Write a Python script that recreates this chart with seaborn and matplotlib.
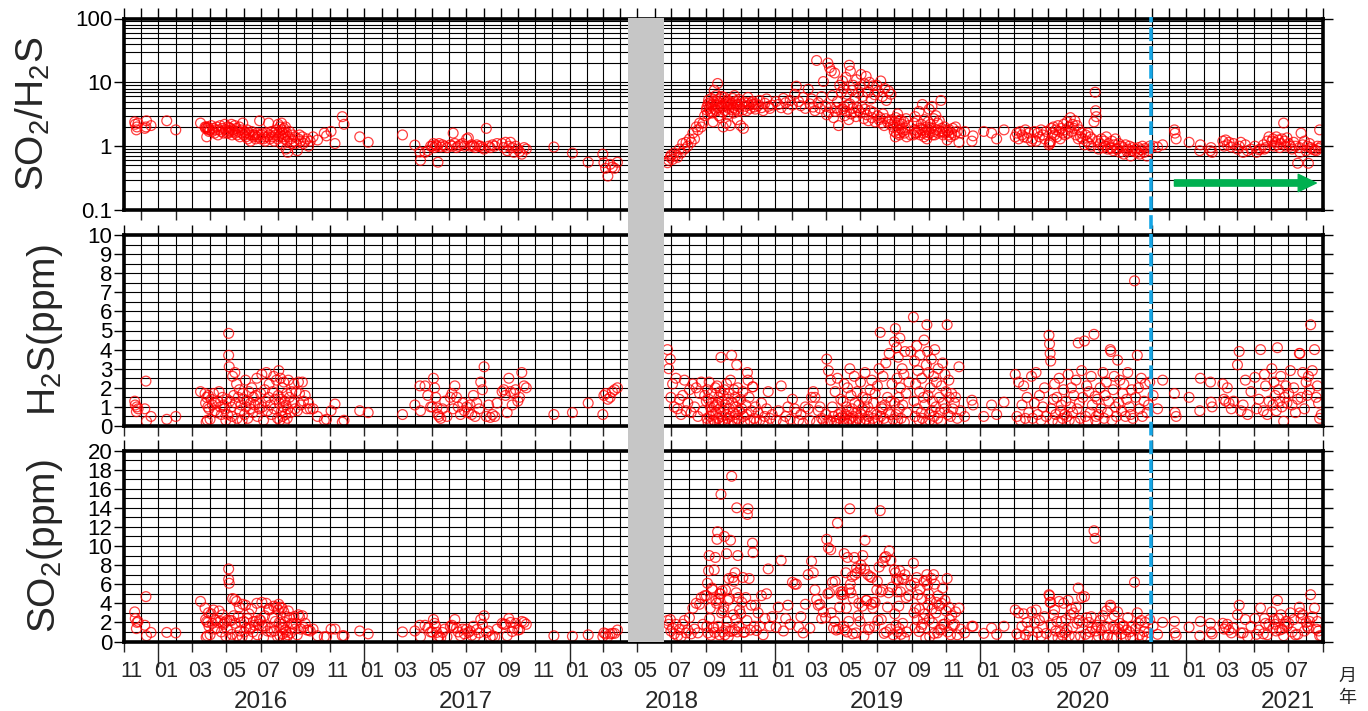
import matplotlib
matplotlib.use("Agg")
import numpy as np
import pandas as pd
import matplotlib.pyplot as plt
import matplotlib.dates as mdates
import matplotlib.ticker as mticker
import matplotlib.transforms as mtransforms
from matplotlib.patches import Rectangle, FancyArrowPatch
from matplotlib.lines import Line2D
import seaborn as sns

# ---------------- data: (date yymmdd, SO2/H2S ratio, H2S ppm, SO2 ppm) ----------------
obs_2015_16 = [
    ("151120", 2.4, 1.3, 3.1), ("151121", 2.2, 1.1, 2.4), ("151123", 1.8, 0.75, 1.35), ("151124", 2.0, 1.0, 2.0),
    ("151126", 2.3, 0.9, 2.1), ("151208", 1.9, 0.9, 1.7), ("151210", 2.0, 2.35, 4.7), ("151211", 2.5, 0.25, 0.6),
    ("151219", 2.1, 0.5, 0.95), ("160116", 2.5, 0.35, 0.95), ("160201", 1.8, 0.5, 0.9), ("160316", 2.3, 1.8, 4.2),
    ("160324", 2.0, 1.7, 3.5), ("160325", 1.9, 1.2, 2.3), ("160326", 2.0, 0.2, 0.45), ("160327", 1.4, 1.5, 2.1),
    ("160328", 1.9, 0.3, 0.6), ("160329", 2.0, 1.0, 2.0), ("160330", 1.8, 1.6, 3.0), ("160331", 1.7, 0.9, 1.6),
    ("160402", 1.8, 0.35, 0.7), ("160404", 2.1, 1.4, 2.9), ("160406", 1.7, 1.1, 1.9), ("160408", 1.9, 1.7, 3.3),
    ("160410", 1.6, 0.8, 1.3), ("160412", 1.8, 1.2, 2.2), ("160414", 2.0, 0.7, 1.4), ("160416", 1.5, 1.3, 2.0),
    ("160418", 1.8, 1.8, 3.2), ("160420", 2.1, 1.0, 2.1), ("160422", 1.7, 0.6, 1.0), ("160424", 1.9, 1.5, 2.8),
    ("160426", 1.6, 1.1, 1.8), ("160428", 2.2, 0.9, 2.0), ("160430", 1.8, 0.3, 0.55), ("160502", 1.6, 1.4, 2.2),
    ("160503", 2.0, 0.6, 1.2), ("160505", 1.6, 4.85, 7.6), ("160505", 1.75, 3.7, 6.5), ("160506", 1.95, 3.1, 6.1),
    ("160507", 1.7, 1.3, 2.2), ("160508", 1.9, 0.2, 0.4), ("160510", 2.2, 1.0, 2.2), ("160511", 1.5, 0.5, 0.75),
    ("160512", 1.8, 2.6, 4.5), ("160514", 1.7, 1.6, 2.7), ("160516", 2.1, 2.8, 4.4), ("160517", 1.6, 1.2, 1.9),
    ("160519", 1.9, 2.2, 4.2), ("160520", 1.5, 0.4, 0.6), ("160522", 1.7, 1.5, 2.6), ("160524", 2.0, 1.9, 3.6),
    ("160525", 1.4, 0.8, 1.1), ("160527", 1.8, 1.1, 2.0), ("160529", 1.6, 0.3, 0.5), ("160530", 2.3, 1.7, 3.9),
    ("160601", 1.5, 1.4, 2.1), ("160602", 1.7, 0.6, 1.0), ("160604", 1.6, 2.4, 3.8), ("160605", 1.4, 1.0, 1.4),
    ("160607", 1.8, 1.3, 2.4), ("160608", 1.3, 0.4, 0.5), ("160610", 1.6, 1.8, 2.9), ("160612", 1.5, 0.9, 1.3),
    ("160613", 1.2, 1.2, 1.5), ("160615", 1.7, 2.0, 3.4), ("160617", 1.5, 0.7, 1.0), ("160618", 1.4, 1.5, 2.1),
    ("160620", 1.5, 1.1, 1.7), ("160622", 1.3, 1.6, 2.1), ("160624", 1.6, 2.5, 4.0), ("160625", 1.4, 0.5, 0.7),
    ("160627", 1.5, 1.2, 1.8), ("160629", 2.5, 0.9, 2.3), ("160701", 1.3, 1.7, 2.2), ("160703", 1.5, 2.7, 4.1),
    ("160704", 1.6, 1.0, 1.6), ("160706", 1.3, 0.3, 0.4), ("160708", 1.4, 1.9, 2.7), ("160709", 1.2, 1.3, 1.6),
    ("160711", 1.6, 2.8, 4.0), ("160713", 1.4, 0.8, 1.1), ("160715", 2.3, 1.5, 3.4), ("160716", 1.5, 2.2, 3.3),
    ("160718", 1.3, 1.1, 1.4), ("160720", 1.7, 0.6, 1.0), ("160722", 1.4, 1.8, 2.5), ("160724", 1.6, 2.6, 3.7),
    ("160725", 1.2, 0.9, 1.1), ("160727", 1.5, 1.4, 2.1), ("160729", 1.8, 2.4, 3.6), ("160731", 1.3, 0.4, 0.5),
    ("160801", 2.2, 1.6, 3.3), ("160802", 1.4, 2.9, 3.9), ("160803", 1.7, 1.2, 2.0), ("160804", 2.0, 0.3, 0.6),
    ("160805", 1.5, 2.5, 3.6), ("160806", 1.1, 1.4, 1.5), ("160807", 2.3, 0.8, 1.8), ("160808", 1.8, 2.0, 3.5),
    ("160809", 1.6, 0.5, 0.8), ("160810", 1.4, 1.0, 1.4), ("160811", 1.9, 2.3, 3.1), ("160812", 1.3, 0.2, 0.3),
    ("160813", 1.5, 1.3, 2.0), ("160814", 2.0, 0.6, 1.2), ("160815", 0.9, 1.1, 1.0), ("160816", 1.6, 1.7, 2.6),
    ("160817", 1.2, 0.4, 0.5), ("160818", 0.8, 0.9, 0.7), ("160819", 1.4, 2.4, 3.2), ("160821", 1.7, 1.5, 2.5),
    ("160823", 1.3, 0.7, 0.9), ("160825", 1.1, 1.8, 1.9), ("160827", 1.5, 1.2, 1.8), ("160829", 1.2, 2.2, 2.6),
    ("160831", 1.4, 0.9, 1.3), ("160902", 1.1, 1.8, 1.9), ("160904", 0.85, 0.8, 0.7), ("160906", 1.3, 2.3, 2.8),
    ("160908", 1.5, 1.7, 2.6), ("160910", 1.2, 1.1, 1.3), ("160913", 1.4, 2.3, 2.7), ("160915", 1.1, 1.3, 1.5),
    ("160918", 1.2, 1.6, 1.9), ("160921", 1.3, 0.9, 1.2), ("160924", 1.0, 1.2, 1.2), ("160927", 1.2, 0.9, 1.1),
    ("161002", 1.4, 0.9, 1.3), ("161010", 1.25, 0.5, 0.6), ("161022", 1.6, 0.3, 0.5), ("161026", 1.45, 0.35, 0.5),
    ("161103", 1.7, 0.8, 1.3), ("161110", 1.1, 1.15, 1.3), ("161123", 2.9, 0.2, 0.6), ("161126", 2.2, 0.3, 0.6),
    ("161224", 1.4, 0.8, 1.1),
]
obs_2017_18 = [
    ("170108", 1.15, 0.7, 0.8), ("170310", 1.5, 0.6, 1.0), ("170401", 1.04, 1.1, 1.1), ("170410", 0.81, 2.1, 1.7),
    ("170411", 0.6, 0.8, 0.5), ("170419", 0.8, 2.1, 1.7), ("170424", 0.85, 1.6, 1.4), ("170429", 1.0, 1.0, 1.0),
    ("170502", 1.0, 1.0, 1.0), ("170504", 1.1, 2.5, 2.3), ("170506", 0.95, 2.0, 1.9), ("170508", 1.05, 1.5, 1.6),
    ("170510", 1.0, 0.95, 0.95), ("170512", 0.56, 0.6, 0.4), ("170514", 1.1, 0.5, 0.55), ("170517", 0.97, 0.4, 0.4),
    ("170520", 1.05, 0.9, 0.95), ("170524", 1.0, 1.3, 1.3), ("170528", 0.95, 0.5, 0.5), ("170603", 1.05, 1.5, 1.6),
    ("170606", 1.0, 1.7, 1.7), ("170608", 1.6, 0.9, 1.45), ("170611", 1.1, 2.1, 2.3), ("170614", 0.95, 1.5, 1.4),
    ("170617", 1.0, 1.0, 1.0), ("170621", 1.05, 0.6, 0.6), ("170625", 1.1, 1.2, 1.3), ("170628", 1.0, 0.8, 0.8),
    ("170702", 1.3, 1.0, 1.3), ("170705", 1.35, 0.7, 0.95), ("170708", 1.0, 1.1, 1.1), ("170711", 1.05, 0.6, 0.65),
    ("170714", 1.0, 1.6, 1.6), ("170717", 0.95, 0.5, 0.5), ("170720", 1.05, 1.2, 1.25), ("170724", 1.0, 0.9, 0.9),
    ("170727", 1.0, 2.3, 2.3), ("170730", 0.95, 1.9, 1.8), ("170802", 0.9, 3.1, 2.7), ("170806", 1.9, 0.5, 0.95),
    ("170810", 1.0, 1.1, 1.1), ("170813", 0.95, 0.45, 0.45), ("170817", 1.05, 0.6, 0.6), ("170821", 1.0, 0.5, 0.5),
    ("170825", 1.1, 1.2, 1.3), ("170903", 1.1, 1.8, 1.9), ("170906", 0.95, 1.9, 1.8), ("170909", 1.15, 1.6, 1.8),
    ("170912", 0.85, 0.7, 0.6), ("170915", 1.0, 2.5, 2.4), ("170918", 1.15, 1.8, 2.0), ("170921", 0.95, 1.1, 1.05),
    ("170924", 0.8, 1.7, 1.4), ("170927", 1.0, 1.9, 1.9), ("171001", 0.9, 1.3, 1.2), ("171004", 0.82, 1.5, 1.25),
    ("171008", 0.75, 2.8, 2.1), ("171012", 0.95, 2.1, 2.0), ("171016", 0.9, 2.0, 1.8), ("171204", 0.97, 0.6, 0.6),
    ("180106", 0.78, 0.7, 0.55), ("180203", 0.56, 1.2, 0.7), ("180301", 0.75, 0.6, 0.5), ("180303", 0.55, 1.6, 0.9),
    ("180306", 0.45, 1.7, 0.8), ("180310", 0.34, 1.4, 0.5), ("180314", 0.52, 1.5, 0.8), ("180318", 0.47, 1.8, 0.85),
    ("180322", 0.45, 1.9, 0.85), ("180327", 0.56, 2.0, 1.2),
    ("180624", 0.55, 4.0, 2.2), ("180626", 0.6, 3.0, 1.8), ("180629", 0.67, 3.5, 2.3), ("180630", 0.72, 1.5, 1.1),
    ("180703", 0.62, 2.2, 1.4), ("180706", 0.78, 1.0, 0.8), ("180709", 0.72, 2.5, 1.8), ("180712", 0.67, 0.9, 0.6),
    ("180715", 0.9, 1.4, 1.25), ("180718", 0.78, 0.6, 0.5), ("180721", 1.1, 1.6, 1.8), ("180724", 0.9, 2.4, 2.2),
    ("180727", 1.15, 0.8, 0.9), ("180730", 1.0, 1.2, 1.2), ("180802", 1.3, 1.9, 2.5), ("180805", 1.15, 0.7, 0.8),
    ("180808", 1.6, 2.2, 3.5), ("180811", 1.3, 1.0, 1.3), ("180814", 2.0, 2.0, 4.0), ("180817", 1.8, 0.5, 0.9),
    ("180820", 2.3, 1.7, 3.9), ("180823", 2.0, 2.3, 4.6), ("180826", 2.3, 0.8, 1.8), ("180829", 3.0, 1.6, 4.8),
    ("180901", 3.7, 1.3, 4.8), ("180902", 4.1, 0.4, 1.6), ("180903", 3.2, 1.9, 6.1), ("180904", 4.6, 0.2, 0.9),
    ("180905", 5.3, 1.4, 7.4), ("180906", 3.9, 2.3, 9.0), ("180907", 4.8, 0.5, 2.4), ("180908", 3.5, 1.0, 3.5),
    ("180909", 4.3, 0.15, 0.65), ("180910", 5.6, 0.8, 4.5), ("180911", 3.3, 1.7, 5.6), ("180912", 4.5, 1.2, 5.4),
    ("180913", 2.4, 0.6, 1.4), ("180914", 5.0, 0.3, 1.5), ("180915", 7.5, 1.0, 7.5), ("180916", 3.8, 0.25, 0.95),
    ("180917", 4.4, 2.0, 8.8), ("180918", 6.2, 0.7, 4.3), ("180919", 3.6, 1.1, 4.0), ("180920", 5.1, 2.1, 10.7),
    ("180921", 9.6, 1.2, 11.5), ("180922", 4.0, 0.4, 1.6), ("180923", 3.0, 1.5, 4.5), ("180924", 4.8, 0.15, 0.7),
    ("180925", 5.5, 0.9, 5.0), ("180926", 2.8, 1.8, 5.0), ("180927", 4.3, 3.6, 15.4), ("180928", 6.0, 0.5, 3.0),
    ("180929", 4.1, 1.3, 5.3), ("180930", 3.4, 0.3, 1.0), ("181001", 2.0, 1.6, 3.2), ("181002", 4.5, 0.8, 3.6),
    ("181003", 5.8, 1.9, 11.0), ("181004", 3.6, 0.2, 0.7), ("181005", 4.9, 1.1, 5.4), ("181006", 2.3, 0.6, 1.4),
    ("181007", 4.2, 2.2, 9.2), ("181008", 5.3, 0.4, 2.1), ("181009", 3.1, 1.4, 4.3), ("181010", 4.6, 0.1, 0.5),
    ("181011", 3.9, 1.7, 6.6), ("181012", 5.0, 0.9, 4.5), ("181013", 2.1, 0.5, 1.05), ("181014", 4.4, 2.4, 10.6),
    ("181016", 4.7, 3.7, 17.3), ("181017", 3.7, 0.3, 1.1), ("181018", 5.6, 1.2, 6.7), ("181019", 4.0, 0.7, 2.8),
    ("181020", 3.3, 1.9, 6.3), ("181021", 6.2, 0.2, 1.2), ("181022", 4.8, 1.5, 7.2), ("181023", 3.8, 0.6, 2.3),
    ("181024", 5.1, 1.0, 5.1), ("181025", 4.3, 3.2, 14.0), ("181026", 2.6, 0.4, 1.0), ("181027", 4.5, 2.0, 9.0),
    ("181028", 3.5, 1.3, 4.6), ("181029", 5.4, 0.3, 1.6), ("181030", 4.1, 0.8, 3.3), ("181101", 2.1, 1.4, 2.9),
    ("181103", 4.6, 0.9, 4.1), ("181105", 3.7, 1.8, 6.7), ("181106", 1.9, 0.5, 0.95), ("181108", 4.9, 0.2, 1.0),
    ("181110", 4.2, 1.1, 4.6), ("181112", 3.6, 0.6, 2.2), ("181113", 4.75, 2.8, 13.3), ("181114", 5.8, 2.4, 13.9),
    ("181116", 4.4, 1.5, 6.6), ("181118", 3.9, 0.3, 1.2), ("181120", 4.8, 0.8, 3.8), ("181122", 5.0, 2.05, 10.3),
    ("181123", 4.5, 2.05, 9.3), ("181125", 4.1, 0.4, 1.6), ("181127", 3.8, 1.0, 3.8), ("181129", 4.6, 0.25, 1.15),
    ("181202", 4.3, 0.7, 3.0), ("181205", 5.2, 0.3, 1.6), ("181208", 4.0, 1.2, 4.8), ("181211", 3.6, 0.2, 0.7),
    ("181214", 4.7, 0.5, 2.4), ("181217", 5.5, 0.9, 5.0), ("181220", 4.2, 1.8, 7.6), ("181223", 3.9, 0.4, 1.6),
    ("181227", 4.4, 0.6, 2.6),
]
obs_2019 = [
    ("190103", 5.0, 0.3, 1.5), ("190107", 4.5, 0.8, 3.6), ("190112", 4.0, 2.1, 8.5), ("190116", 5.6, 0.2, 1.1),
    ("190120", 4.8, 0.5, 2.4), ("190124", 3.8, 1.0, 3.8), ("190128", 5.2, 0.35, 1.8), ("190201", 4.4, 1.4, 6.2),
    ("190205", 6.5, 0.9, 6.0), ("190208", 8.7, 0.7, 6.0), ("190212", 5.0, 0.3, 1.5), ("190216", 4.3, 0.6, 2.6),
    ("190220", 5.8, 0.15, 0.9), ("190224", 3.9, 1.0, 3.9), ("190301", 7.8, 0.9, 7.0), ("190304", 4.6, 0.3, 1.4),
    ("190307", 5.5, 1.5, 8.4), ("190310", 4.1, 1.8, 7.2), ("190313", 3.6, 1.5, 5.4), ("190316", 22.0, 0.2, 4.4),
    ("190319", 4.8, 0.8, 3.8), ("190322", 3.9, 1.0, 3.9), ("190325", 6.0, 0.4, 2.4), ("190328", 10.3, 0.3, 3.1),
    ("190401", 4.2, 0.6, 2.5), ("190403", 3.1, 3.5, 10.7), ("190405", 20.0, 0.25, 5.0), ("190406", 3.4, 2.9, 9.8),
    ("190408", 17.0, 0.3, 5.1), ("190410", 4.0, 2.4, 9.6), ("190411", 15.0, 0.2, 3.0), ("190413", 6.2, 1.0, 6.2),
    ("190415", 2.8, 0.5, 1.4), ("190417", 14.0, 0.15, 2.1), ("190418", 3.5, 1.8, 6.3), ("190420", 4.0, 0.3, 1.2),
    ("190422", 5.0, 2.5, 12.4), ("190424", 2.1, 0.6, 1.3), ("190426", 9.0, 0.4, 3.6), ("190428", 3.7, 1.4, 5.2),
    ("190429", 7.0, 0.7, 4.9), ("190501", 10.5, 0.5, 5.2), ("190502", 3.8, 1.3, 4.9), ("190503", 8.0, 0.2, 1.6),
    ("190504", 4.2, 2.2, 9.2), ("190505", 3.0, 0.4, 1.2), ("190507", 12.0, 0.6, 7.2), ("190508", 3.5, 1.0, 3.5),
    ("190509", 6.5, 0.15, 1.0), ("190510", 4.4, 2.0, 8.8), ("190512", 2.6, 0.8, 2.1), ("190513", 18.5, 0.3, 5.5),
    ("190514", 4.6, 3.0, 13.9), ("190515", 15.0, 0.4, 6.0), ("190516", 3.2, 1.6, 5.1), ("190518", 7.5, 0.9, 6.8),
    ("190519", 3.9, 0.2, 0.8), ("190520", 9.0, 0.5, 4.5), ("190522", 3.4, 2.6, 8.8), ("190523", 5.8, 1.2, 7.0),
    ("190525", 2.9, 0.3, 0.9), ("190526", 11.0, 0.7, 7.7), ("190527", 4.0, 1.8, 7.2), ("190529", 6.8, 0.4, 2.7),
    ("190530", 3.6, 1.1, 4.0), ("190601", 8.5, 0.25, 2.1), ("190602", 3.3, 2.3, 7.6), ("190603", 13.3, 0.6, 8.0),
    ("190605", 4.1, 0.9, 3.7), ("190606", 6.0, 1.5, 9.0), ("190608", 2.7, 0.2, 0.55), ("190609", 9.5, 0.8, 7.6),
    ("190610", 3.8, 2.8, 10.6), ("190612", 12.4, 0.35, 4.3), ("190613", 3.1, 1.4, 4.3), ("190615", 7.0, 1.0, 7.0),
    ("190616", 2.5, 0.5, 1.25), ("190618", 10.0, 0.15, 1.5), ("190619", 3.6, 1.9, 6.8), ("190621", 5.5, 0.7, 3.9),
    ("190622", 2.8, 2.4, 6.7), ("190624", 8.8, 0.4, 3.5), ("190625", 3.4, 1.2, 4.1), ("190627", 6.4, 0.25, 1.6),
    ("190628", 2.4, 1.7, 4.1), ("190701", 9.0, 0.6, 5.4), ("190702", 3.0, 2.1, 6.3), ("190703", 7.2, 0.3, 2.2),
    ("190705", 2.6, 3.0, 7.8), ("190707", 2.8, 4.9, 13.7), ("190708", 10.5, 0.5, 5.2), ("190709", 2.3, 1.0, 2.3),
    ("190711", 6.0, 0.9, 5.4), ("190712", 3.2, 2.6, 8.3), ("190714", 2.1, 0.4, 0.85), ("190715", 8.0, 1.1, 8.8),
    ("190717", 2.7, 3.3, 8.9), ("190718", 5.2, 0.2, 1.0), ("190720", 2.4, 1.5, 3.6), ("190722", 7.3, 0.7, 5.1),
    ("190723", 2.5, 3.8, 9.5), ("190725", 2.2, 0.6, 1.3), ("190726", 6.5, 1.3, 8.5), ("190728", 2.6, 2.2, 5.7),
    ("190730", 2.0, 0.35, 0.7), ("190801", 1.7, 4.4, 7.5), ("190802", 2.4, 1.2, 2.9), ("190803", 1.4, 5.1, 7.2),
    ("190804", 2.8, 0.6, 1.7), ("190805", 1.6, 4.1, 6.5), ("190806", 2.1, 2.5, 5.2), ("190807", 3.2, 0.3, 1.0),
    ("190808", 1.8, 3.6, 6.4), ("190809", 2.5, 1.5, 3.7), ("190810", 1.5, 0.9, 1.35), ("190811", 1.6, 4.6, 7.4),
    ("190812", 2.6, 2.0, 5.2), ("190813", 1.9, 0.4, 0.75), ("190815", 2.2, 3.0, 6.6), ("190816", 1.7, 1.1, 1.9),
    ("190818", 2.4, 2.7, 6.5), ("190819", 1.6, 0.2, 0.35), ("190820", 1.8, 3.9, 7.0), ("190822", 2.7, 1.7, 4.6),
    ("190823", 1.4, 0.7, 1.0), ("190827", 2.1, 2.3, 4.8), ("190830", 1.5, 3.9, 5.9), ("190904", 1.5, 5.7, 8.2),
    ("190905", 2.3, 1.3, 3.0), ("190906", 1.8, 3.4, 6.1), ("190907", 2.9, 0.5, 1.45), ("190908", 1.6, 2.2, 3.5),
    ("190910", 1.6, 4.2, 6.7), ("190911", 2.5, 0.9, 2.25), ("190912", 1.7, 2.9, 4.9), ("190914", 3.5, 0.3, 1.05),
    ("190915", 1.9, 1.8, 3.4), ("190916", 1.5, 3.7, 5.5), ("190918", 2.2, 0.7, 1.5), ("190919", 1.8, 2.5, 4.5),
    ("190920", 4.5, 0.4, 1.8), ("190922", 1.6, 1.5, 2.4), ("190923", 1.4, 4.5, 6.3), ("190924", 2.6, 1.1, 2.9),
    ("190926", 1.7, 0.2, 0.35), ("190927", 2.0, 3.2, 6.4), ("190928", 1.3, 5.3, 7.0), ("190929", 1.5, 3.9, 5.9),
    ("190930", 2.4, 1.6, 3.8), ("191001", 1.8, 2.8, 5.0), ("191002", 3.8, 0.6, 2.3), ("191003", 1.6, 0.3, 0.5),
    ("191004", 2.2, 2.0, 4.4), ("191006", 1.9, 3.5, 6.6), ("191007", 4.2, 0.8, 3.4), ("191008", 1.5, 1.3, 1.95),
    ("191010", 2.7, 2.6, 7.0), ("191011", 1.7, 0.5, 0.85), ("191012", 1.5, 4.0, 6.0), ("191014", 3.0, 1.0, 3.0),
    ("191015", 1.8, 2.3, 4.1), ("191017", 2.3, 0.4, 0.9), ("191018", 1.6, 3.0, 4.8), ("191020", 2.5, 1.5, 3.75),
    ("191021", 1.7, 0.7, 1.2), ("191023", 5.2, 0.25, 1.3), ("191024", 1.9, 2.1, 4.0), ("191026", 1.7, 3.3, 5.6),
    ("191027", 1.5, 1.2, 1.8), ("191029", 2.0, 0.9, 1.8), ("191030", 1.6, 2.7, 4.3), ("191101", 1.8, 1.8, 3.2),
    ("191103", 1.25, 5.3, 6.6), ("191104", 1.7, 0.6, 1.0), ("191106", 1.5, 2.4, 3.6), ("191107", 1.8, 1.5, 2.3),
    ("191109", 1.4, 0.5, 0.7), ("191111", 1.6, 1.7, 2.7), ("191113", 1.9, 0.9, 1.7), ("191116", 1.5, 1.2, 1.8),
    ("191118", 2.0, 1.5, 3.1), ("191121", 1.7, 0.4, 0.7), ("191124", 1.15, 3.1, 3.5), ("191127", 1.6, 0.8, 1.3),
    ("191204", 1.7, 0.5, 0.9), ("191217", 1.2, 1.35, 1.6), ("191219", 1.45, 1.1, 1.6),
]
obs_2020 = [
    ("200107", 1.7, 0.5, 0.85), ("200121", 1.6, 1.1, 1.4), ("200130", 1.3, 0.6, 0.75), ("200212", 1.8, 1.25, 1.6),
    ("200303", 1.4, 2.7, 3.3), ("200306", 1.6, 0.5, 0.8), ("200309", 1.3, 2.3, 3.0), ("200312", 1.7, 0.3, 0.5),
    ("200315", 1.5, 1.1, 1.6), ("200318", 1.4, 2.1, 2.9), ("200321", 1.8, 0.4, 0.7), ("200324", 1.35, 1.5, 2.0),
    ("200327", 1.6, 0.7, 1.1), ("200401", 1.2, 2.6, 3.1), ("200403", 1.3, 0.4, 0.5), ("200406", 1.7, 1.2, 2.0),
    ("200409", 1.2, 2.8, 3.3), ("200412", 1.6, 0.6, 0.95), ("200415", 1.4, 1.6, 2.2), ("200418", 1.8, 0.3, 0.55),
    ("200421", 1.5, 1.0, 1.5), ("200424", 1.3, 2.0, 2.6), ("200427", 1.7, 0.5, 0.85), ("200502", 1.05, 4.75, 4.9),
    ("200503", 1.15, 4.3, 4.8), ("200504", 1.1, 3.8, 4.1), ("200505", 1.2, 3.4, 4.1), ("200506", 1.9, 0.9, 1.7),
    ("200508", 1.6, 0.3, 0.5), ("200510", 2.0, 1.4, 2.8), ("200512", 1.5, 2.2, 3.3), ("200514", 1.8, 0.6, 1.1),
    ("200516", 1.4, 1.5, 2.1), ("200518", 2.1, 0.2, 0.4), ("200520", 1.7, 2.5, 4.2), ("200522", 1.3, 0.8, 1.0),
    ("200524", 1.9, 1.1, 2.1), ("200526", 1.6, 0.4, 0.65), ("200528", 2.2, 1.9, 4.0), ("200530", 1.5, 0.6, 0.9),
    ("200601", 1.8, 1.3, 2.3), ("200603", 2.4, 0.5, 1.2), ("200605", 1.6, 2.7, 4.3), ("200607", 2.0, 0.3, 0.6),
    ("200609", 2.8, 1.0, 2.8), ("200611", 1.7, 2.0, 3.4), ("200613", 2.2, 0.7, 1.5), ("200615", 1.9, 1.6, 3.0),
    ("200617", 2.5, 0.2, 0.5), ("200619", 1.5, 2.4, 3.6), ("200621", 2.1, 0.9, 1.9), ("200623", 1.3, 4.35, 5.6),
    ("200625", 1.8, 1.2, 2.2), ("200627", 1.4, 0.4, 0.55), ("200629", 1.6, 2.9, 4.6), ("200701", 1.3, 1.5, 2.0),
    ("200704", 1.05, 4.45, 4.7), ("200706", 1.5, 0.5, 0.75), ("200708", 1.2, 2.1, 2.5), ("200710", 1.6, 0.25, 0.4),
    ("200712", 1.1, 1.8, 2.0), ("200714", 1.4, 0.7, 1.0), ("200716", 1.0, 2.6, 2.6), ("200718", 1.3, 1.1, 1.4),
    ("200721", 2.4, 4.8, 11.6), ("200723", 7.0, 1.55, 10.8), ("200724", 3.6, 0.3, 1.1), ("200725", 2.9, 0.5, 1.45),
    ("200727", 1.2, 1.4, 1.7), ("200729", 0.9, 0.6, 0.55), ("200801", 1.1, 2.0, 2.2), ("200803", 1.3, 0.9, 1.2),
    ("200806", 0.95, 2.8, 2.7), ("200808", 1.2, 0.4, 0.5), ("200810", 1.0, 1.6, 1.6), ("200812", 1.4, 2.3, 3.2),
    ("200814", 0.9, 0.7, 0.65), ("200816", 1.1, 1.3, 1.4), ("200819", 0.95, 4.0, 3.8), ("200820", 0.92, 3.9, 3.6),
    ("200822", 1.2, 0.3, 0.35), ("200824", 0.85, 1.9, 1.6), ("200826", 1.05, 2.6, 2.7), ("200828", 1.3, 1.0, 1.3),
    ("200830", 0.9, 0.5, 0.45), ("200901", 0.9, 3.45, 3.1), ("200903", 1.1, 1.2, 1.3), ("200905", 0.8, 2.4, 1.9),
    ("200908", 1.0, 0.8, 0.8), ("200910", 0.95, 1.7, 1.6), ("200912", 0.75, 2.2, 1.65), ("200915", 1.05, 0.5, 0.5),
    ("200917", 0.85, 1.4, 1.2), ("200919", 0.9, 2.8, 2.5), ("200922", 1.0, 1.0, 1.0), ("200924", 0.7, 0.6, 0.4),
    ("200926", 0.85, 1.9, 1.6), ("200928", 0.95, 0.4, 0.4), ("201001", 0.82, 7.6, 6.2), ("201003", 0.9, 1.5, 1.35),
    ("201006", 0.8, 3.7, 3.0), ("201008", 0.95, 2.0, 1.9), ("201010", 0.75, 0.9, 0.7), ("201013", 0.88, 2.5, 2.2),
    ("201015", 1.0, 0.5, 0.5), ("201018", 0.8, 1.3, 1.05), ("201020", 0.92, 2.2, 2.0), ("201023", 0.7, 0.7, 0.5),
    ("201026", 0.85, 1.1, 0.95), ("201028", 1.0, 2.3, 2.3), ("201103", 1.0, 1.6, 1.6), ("201111", 0.97, 0.9, 0.75),
    ("201120", 1.05, 2.4, 2.0), ("201211", 1.8, 1.7, 2.1), ("201212", 1.6, 0.7, 0.9), ("201214", 1.3, 0.5, 0.6),
]
obs_2021 = [
    ("210106", 1.15, 1.5, 1.5), ("210125", 0.85, 0.8, 0.6), ("210126", 1.05, 2.5, 2.1), ("210213", 0.85, 2.3, 1.9),
    ("210214", 0.95, 1.25, 1.0), ("210216", 0.8, 1.0, 0.8), ("210307", 1.2, 2.2, 1.9), ("210309", 1.0, 1.4, 1.3),
    ("210312", 1.25, 1.3, 1.5), ("210315", 1.05, 2.0, 1.8), ("210318", 1.15, 1.2, 1.2), ("210322", 0.97, 0.9, 0.9),
    ("210326", 1.1, 1.3, 1.4), ("210402", 0.9, 3.2, 2.8), ("210405", 1.0, 3.9, 3.8), ("210408", 1.15, 0.8, 0.9),
    ("210412", 0.8, 1.1, 0.9), ("210416", 1.05, 2.4, 2.3), ("210420", 0.85, 0.6, 0.5), ("210426", 0.9, 1.8, 1.6),
    ("210503", 1.0, 2.55, 2.4), ("210506", 0.8, 0.9, 0.75), ("210510", 0.88, 1.4, 1.2), ("210513", 0.9, 4.0, 3.5),
    ("210518", 1.05, 0.8, 0.8), ("210520", 0.9, 2.7, 2.4), ("210522", 0.95, 2.1, 1.9), ("210525", 1.2, 0.6, 0.7),
    ("210528", 1.4, 1.3, 1.8), ("210602", 1.2, 3.0, 3.1), ("210604", 1.3, 1.1, 1.4), ("210606", 1.0, 2.3, 2.3),
    ("210608", 1.15, 1.6, 1.8), ("210610", 1.4, 0.8, 1.1), ("210612", 1.05, 4.1, 4.3), ("210614", 1.25, 1.9, 2.4),
    ("210616", 0.95, 1.3, 1.2), ("210618", 1.1, 2.6, 2.8), ("210620", 1.3, 1.0, 1.3), ("210623", 2.3, 0.25, 0.6),
    ("210625", 1.2, 1.5, 1.8), ("210627", 1.0, 2.1, 2.1), ("210629", 1.35, 1.2, 1.6), ("210702", 1.1, 1.7, 1.9),
    ("210705", 1.0, 2.9, 3.0), ("210708", 0.9, 1.1, 1.0), ("210711", 1.15, 2.0, 2.3), ("210714", 1.0, 0.7, 0.7),
    ("210718", 0.54, 1.4, 0.75), ("210721", 0.95, 3.8, 3.6), ("210722", 0.8, 3.8, 3.0), ("210724", 1.6, 1.5, 2.4),
    ("210727", 1.05, 2.8, 2.8), ("210730", 1.2, 0.9, 1.1), ("210802", 0.85, 2.3, 2.0), ("210804", 1.0, 1.6, 1.6),
    ("210806", 0.54, 2.6, 1.4), ("210808", 1.1, 1.9, 2.1), ("210810", 0.95, 5.3, 4.9), ("210813", 0.9, 2.9, 2.6),
    ("210817", 0.87, 4.0, 3.5), ("210820", 0.85, 1.5, 1.3), ("210822", 1.0, 2.1, 2.1), ("210824", 0.92, 1.2, 1.1),
    ("210826", 1.8, 0.4, 0.6), ("210829", 1.0, 0.6, 0.6),
]

# axis ranges, ticks, labels, annotations
x_start, x_end = "2015-11-01", "2021-09-01"
gap_start, gap_end = "2018-04-15", "2018-06-18"      # no-observation period (grey band)
marker_date = "2020-10-31"                              # blue dashed line
arrow_start, arrow_end, arrow_level = "2020-12-06", "2021-08-25", 0.265
ratio_ticks = [0.1, 1, 10, 100]
ratio_ticklabels = ["0.1", "1", "10", "100"]
h2s_ticks = list(range(0, 11))
so2_ticks = list(range(0, 21, 2))
ylabels = ["SO$_2$/H$_2$S", "H$_2$S(ppm)", "SO$_2$(ppm)"]

# ---------------- build frame ----------------
rows = obs_2015_16 + obs_2017_18 + obs_2019 + obs_2020 + obs_2021
df = pd.DataFrame(rows, columns=["date", "ratio", "h2s", "so2"])
df["date"] = pd.to_datetime(df["date"], format="%y%m%d")

sns.set_style("white")
plt.rcParams["font.family"] = ["Liberation Sans", "DejaVu Sans"]
plt.rcParams["mathtext.fontset"] = "custom"
plt.rcParams["mathtext.rm"] = "Liberation Sans"
plt.rcParams["mathtext.default"] = "regular"

W, H = 1368, 711
fig = plt.figure(figsize=(W / 100, H / 100), dpi=100)


def axes_px(top, bottom):
    return fig.add_axes([124 / W, 1 - bottom / H, 1199 / W, (bottom - top) / H])


ax1 = axes_px(18.5, 210)
ax2 = axes_px(235, 426)
ax3 = axes_px(450.5, 641.5)
axes = [ax1, ax2, ax3]

for ax, col in zip(axes, ["ratio", "h2s", "so2"]):
    sns.scatterplot(data=df, x="date", y=col, ax=ax, s=50, marker="o", color="red",
                    facecolor="none", edgecolor="red", linewidth=0.9, alpha=0.75,
                    legend=False, zorder=3)

xlim = (pd.Timestamp(x_start), pd.Timestamp(x_end))
odd_months = (1, 3, 5, 7, 9, 11)
even_months = (2, 4, 6, 8, 10, 12)

ax1.set_yscale("log")
ax1.set_ylim(0.1, 100)
ax1.yaxis.set_major_locator(mticker.FixedLocator(ratio_ticks))
ax1.yaxis.set_major_formatter(mticker.FixedFormatter(ratio_ticklabels))
ax1.yaxis.set_minor_locator(mticker.LogLocator(base=10, subs=np.arange(2, 10)))
ax1.yaxis.set_minor_formatter(mticker.NullFormatter())

ax2.set_ylim(0, 10)
ax2.yaxis.set_major_locator(mticker.FixedLocator(h2s_ticks))
ax2.yaxis.set_minor_locator(mticker.MultipleLocator(0.5))

ax3.set_ylim(0, 20)
ax3.yaxis.set_major_locator(mticker.FixedLocator(so2_ticks))
ax3.yaxis.set_minor_locator(mticker.MultipleLocator(1))

tick_top = [None, odd_months, odd_months]
tick_bottom = [even_months, odd_months, None]

for i, ax in enumerate(axes):
    ax.set_xlim(*xlim)
    ax.set_xlabel("")
    ax.set_ylabel(ylabels[i], fontsize=28, va="center")
    ax.yaxis.set_label_coords(-0.076 if i == 0 else -0.066, 0.5)
    ax.set_axisbelow(True)
    ax.xaxis.set_major_locator(mdates.MonthLocator())
    ax.tick_params(axis="x", which="both", length=0, labelbottom=False, labeltop=False)
    ax.grid(True, which="major", axis="x", color="black", lw=0.8)
    ax.grid(True, which="both", axis="y", color="black", lw=0.8)
    ax.tick_params(axis="y", which="major", direction="out", length=7, width=1, left=True, right=True,
                   labelsize=16, pad=1.5, colors="black")
    ax.tick_params(axis="y", which="minor", length=0, left=False, right=False)
    for s in ax.spines.values():
        s.set_visible(True)
        s.set_linewidth(2.6)
        s.set_color("black")
        s.set_zorder(4)
    # top side tick marks
    sec = ax.secondary_xaxis("top")
    sec.xaxis.set_major_locator(mdates.MonthLocator(bymonth=tick_top[i]) if tick_top[i] else mdates.MonthLocator())
    sec.tick_params(axis="x", length=7, width=1, direction="out", labeltop=False, colors="black")
    for s in sec.spines.values():
        s.set_visible(False)
    # bottom side tick marks
    if tick_bottom[i] is not None:
        secb = ax.secondary_xaxis("bottom")
        secb.xaxis.set_major_locator(mdates.MonthLocator(bymonth=tick_bottom[i]))
        secb.tick_params(axis="x", length=7, width=1, direction="out", labelbottom=False)
        for s in secb.spines.values():
            s.set_visible(False)

# bottom panel: odd-month short ticks, long January ticks, month and year labels
secb = ax3.secondary_xaxis("bottom")
secb.xaxis.set_major_locator(mdates.YearLocator())
secb.xaxis.set_minor_locator(mdates.MonthLocator(bymonth=odd_months))
secb.tick_params(axis="x", which="major", length=18, width=1, labelbottom=False)
secb.tick_params(axis="x", which="minor", length=7, width=1, labelbottom=False)
for s in secb.spines.values():
    s.set_visible(False)

secm = ax3.secondary_xaxis("bottom")
secm.xaxis.set_major_locator(mdates.MonthLocator(bymonth=odd_months, bymonthday=15))
secm.xaxis.set_major_formatter(mdates.DateFormatter("%m"))
secm.tick_params(axis="x", length=0, pad=14, labelsize=15.5)
for s in secm.spines.values():
    s.set_visible(False)

secy = ax3.secondary_xaxis("bottom")
secy.xaxis.set_major_locator(mdates.MonthLocator(bymonth=7, bymonthday=1))
secy.xaxis.set_major_formatter(mdates.DateFormatter("%Y"))
secy.tick_params(axis="x", length=0, pad=36, labelsize=17.5)
for s in secy.spines.values():
    s.set_visible(False)

fig.text(1347 / W, 1 - 676 / H, "月", family=["Noto Sans CJK JP"], fontsize=13, ha="center", va="center")
fig.text(1347 / W, 1 - 698 / H, "年", family=["Noto Sans CJK JP"], fontsize=13, ha="center", va="center")

# grey band spanning all panels
fig_y0, fig_y1 = 1 - 642 / H, 1 - 18 / H
tr = mtransforms.blended_transform_factory(ax3.transData, fig.transFigure)
g0, g1 = mdates.date2num(pd.Timestamp(gap_start)), mdates.date2num(pd.Timestamp(gap_end))
fig.add_artist(Rectangle((g0, fig_y0), g1 - g0, fig_y1 - fig_y0, transform=tr,
                         facecolor="#c6c6c6", edgecolor="none", zorder=10))

# blue dashed marker line
m0 = mdates.date2num(pd.Timestamp(marker_date))
fig.add_artist(Line2D([m0, m0], [fig_y0, fig_y1 + 0.002], transform=tr, color="#16a6e6",
                      lw=2.6, linestyle=(0, (3.8, 1.4)), zorder=11))

# green arrow in ratio panel
arrow = FancyArrowPatch((pd.Timestamp(arrow_start), arrow_level), (pd.Timestamp(arrow_end), arrow_level),
                        arrowstyle="simple,head_length=1.3,head_width=1.25,tail_width=0.45",
                        mutation_scale=10, color="#00b050", zorder=6)
ax1.add_patch(arrow)

fig.savefig("out.png", dpi=100)
